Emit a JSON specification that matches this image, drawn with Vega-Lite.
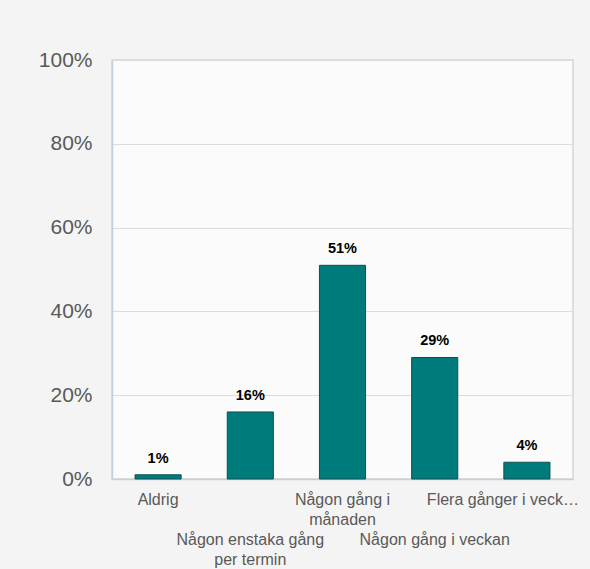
{
  "$schema": "https://vega.github.io/schema/vega-lite/v6.json",
  "width": 461,
  "height": 419,
  "autosize": {"type": "none"},
  "padding": {"left": 112, "top": 60, "right": 17, "bottom": 90},
  "background": "#f4f4f4",
  "config": {
    "view": {"fill": "#fbfbfb", "stroke": "#d6d6d6", "strokeWidth": 1.5},
    "font": "Liberation Sans"
  },
  "data": {
    "values": [
      {"kategori": "Aldrig", "andel": 0.01, "etikett": "1%"},
      {"kategori": "Någon enstaka gång per termin", "andel": 0.16, "etikett": "16%"},
      {"kategori": "Någon gång i månaden", "andel": 0.51, "etikett": "51%"},
      {"kategori": "Någon gång i veckan", "andel": 0.29, "etikett": "29%"},
      {"kategori": "Flera gånger i veckan", "andel": 0.04, "etikett": "4%"}
    ]
  },
  "encoding": {
    "x": {
      "field": "kategori",
      "type": "nominal",
      "sort": null,
      "scale": {"paddingInner": 0.5, "paddingOuter": 0.25},
      "axis": {
        "title": null,
        "labelAngle": 0,
        "labelFontSize": 16,
        "labelColor": "#595959",
        "labelLineHeight": 20,
        "labelPadding": {"condition": {"test": "datum.value == 'Någon enstaka gång per termin' || datum.value == 'Någon gång i veckan'", "value": 52}, "value": 12},
        "labelLimit": 300,
        "labelOffset": {"condition": {"test": "datum.value == 'Flera gånger i veckan'", "value": -24}, "value": 0},
        "ticks": false,
        "domainColor": "#c5cfe0",
        "domainWidth": 1.5,
        "labelExpr": "datum.value == 'Aldrig' ? 'Aldrig' : datum.value == 'Någon enstaka gång per termin' ? ['Någon enstaka gång', 'per termin'] : datum.value == 'Någon gång i månaden' ? ['Någon gång i', 'månaden'] : datum.value == 'Någon gång i veckan' ? 'Någon gång i veckan' : 'Flera gånger i veck…'"
      }
    },
    "y": {
      "field": "andel",
      "type": "quantitative",
      "scale": {"domain": [0, 1]},
      "axis": {
        "title": null,
        "format": ".0%",
        "values": [0, 0.2, 0.4, 0.6, 0.8, 1],
        "labelFontSize": 21,
        "labelColor": "#595959",
        "labelPadding": 20,
        "ticks": false,
        "domainColor": "#c5cfe0",
        "domainWidth": 1.5,
        "gridColor": "#dcdcdc",
        "gridWidth": 1.2
      }
    }
  },
  "layer": [
    {
      "mark": {"type": "bar", "color": "#007b7b", "stroke": "#0d5050", "strokeWidth": 1}
    },
    {
      "mark": {"type": "text", "fontWeight": "bold", "fontSize": 14.5, "color": "#000000", "baseline": "bottom", "dy": -9},
      "encoding": {"text": {"field": "etikett"}}
    }
  ]
}
